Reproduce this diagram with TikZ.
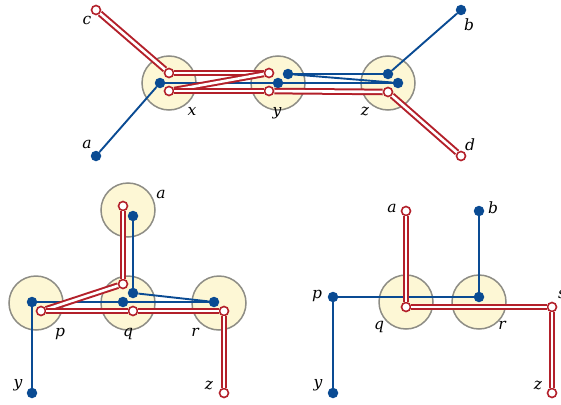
\documentclass[tikz,border=0pt]{standalone}
\usepackage{fontspec}
\newfontfamily\labfont{DejaVu Serif}
\begin{document}
\definecolor{myblue}{HTML}{0A4B93}
\definecolor{myred}{HTML}{B3202A}
\definecolor{diskfill}{HTML}{FDF7D5}
\definecolor{diskgray}{HTML}{8E8D85}
\begin{tikzpicture}[x=1pt,y=-1pt,
  disk/.style={circle, draw=diskgray, fill=diskfill, line width=1.5pt, minimum size=54pt, inner sep=0pt},
  bdot/.style={circle, fill=myblue, minimum size=10.5pt, inner sep=0pt},
  rdot/.style={circle, draw=myred, fill=white, line width=1.6pt, minimum size=9pt, inner sep=0pt},
  bline/.style={draw=myblue, line width=1.9pt},
  rline/.style={draw=myred, double=white, line width=2pt, double distance=2.6pt},
  lab/.style={font=\labfont\itshape\fontsize{15.5}{15.5}\selectfont, inner sep=0pt, text height=1ex, text depth=0pt}]
\useasboundingbox (0,0) rectangle (561,404);
% ---------- top panel ----------
\node[disk] (Dx) at (169,83) {};
\node[disk] (Dy) at (278,83) {};
\node[disk] (Dz) at (388,83) {};
\node[bdot] (xb) at (160,83) {};
\node[bdot] (yb1) at (288,74) {};
\node[bdot] (yb2) at (278,83) {};
\node[bdot] (zb1) at (388,74) {};
\node[bdot] (zb2) at (398,83) {};
\node[bdot] (ta) at (96,156) {};
\node[bdot] (tb) at (461,10) {};
\node[rdot] (xr1) at (169,73) {};
\node[rdot] (xr2) at (169,91) {};
\node[rdot] (yr1) at (269,73) {};
\node[rdot] (yr2) at (269,91) {};
\node[rdot] (zr) at (388,92) {};
\node[rdot] (tc) at (96,10) {};
\node[rdot] (td) at (461,156) {};
\draw[bline] (ta) -- (xb);
\draw[bline] (xb) -- (yb2);
\draw[bline] (yb2) -- (zb2);
\draw[bline] (yb1) -- (zb1);
\draw[bline] (yb1) -- (zb2);
\draw[bline] (zb1) -- (tb);
\draw[rline] (tc) -- (xr1);
\draw[rline] (xr1) -- (yr1);
\draw[rline] (yr1) -- (xr2);
\draw[rline] (xr2) -- (yr2);
\draw[rline] (yr2) -- (zr);
\draw[rline] (zr) -- (td);
\node[lab] (lc) at (87,22) {c};
\node[lab] (la) at (87,146) {a};
\node[lab] (lx) at (192,113) {x};
\node[lab] (ly) at (277,113) {y};
\node[lab] (lz) at (365,113) {z};
\node[lab] (lb) at (469,28) {b};
\node[lab] (ld) at (470,148) {d};
% ---------- bottom-left panel ----------
\node[disk] (Da) at (128,210) {};
\node[disk] (Dp) at (36,303) {};
\node[disk] (Dq) at (128,303) {};
\node[disk] (Dr) at (219,303) {};
\node[bdot] (ab) at (133,216) {};
\node[bdot] (qb1) at (133,293) {};
\node[bdot] (qb2) at (123,302) {};
\node[bdot] (pb) at (32,302) {};
\node[bdot] (rb) at (214,302) {};
\node[bdot] (yb) at (32,393) {};
\node[rdot] (ar) at (123,206) {};
\node[rdot] (qr1) at (123,284) {};
\node[rdot] (pr) at (41,311) {};
\node[rdot] (qr2) at (133,311) {};
\node[rdot] (rr) at (224,311) {};
\node[rdot] (zr2) at (224,393) {};
\draw[bline] (ab) -- (qb1);
\draw[bline] (qb1) -- (rb);
\draw[bline] (pb) -- (qb2);
\draw[bline] (qb2) -- (rb);
\draw[bline] (pb) -- (yb);
\draw[rline] (ar) -- (qr1);
\draw[rline] (qr1) -- (pr);
\draw[rline] (pr) -- (qr2);
\draw[rline] (qr2) -- (rr);
\draw[rline] (rr) -- (zr2);
\node[lab] (la2) at (161,196) {a};
\node[lab] (lp2) at (60,334) {p};
\node[lab] (lq2) at (128,334) {q};
\node[lab] (lr2) at (195,334) {r};
\node[lab] (ly2) at (18,385) {y};
\node[lab] (lz2) at (209,387) {z};
% ---------- bottom-right panel ----------
\node[disk] (Dq3) at (406,302) {};
\node[disk] (Dr3) at (479,302) {};
\node[bdot] (bb3) at (479,211) {};
\node[bdot] (rb3) at (479,297) {};
\node[bdot] (pb3) at (333,297) {};
\node[bdot] (yb3) at (333,393) {};
\node[rdot] (ar3) at (406,211) {};
\node[rdot] (qr3) at (406,307) {};
\node[rdot] (sr3) at (552,307) {};
\node[rdot] (zr3) at (552,393) {};
\draw[bline] (bb3) -- (rb3);
\draw[bline] (pb3) -- (rb3);
\draw[bline] (pb3) -- (yb3);
\draw[rline] (ar3) -- (qr3);
\draw[rline] (qr3) -- (sr3);
\draw[rline] (sr3) -- (zr3);
\node[lab] (la3) at (392,210) {a};
\node[lab] (lb3) at (493,211) {b};
\node[lab] (lp3) at (317,296) {p};
\node[lab] (lq3) at (379,327) {q};
\node[lab] (lr3) at (502,327) {r};
\node[lab] (ly3) at (318,385) {y};
\node[lab] (lz3) at (538,387) {z};
\node[lab] (ls3) at (562,296) {s};
\end{tikzpicture}
\end{document}
